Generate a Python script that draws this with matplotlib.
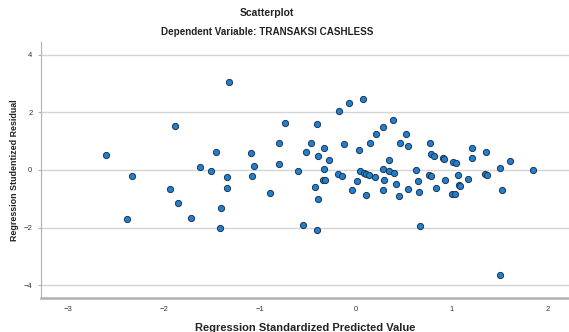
import matplotlib
matplotlib.use('Agg')
import matplotlib.pyplot as plt

plt.rcParams['font.family'] = ['Liberation Sans', 'DejaVu Sans']

# standardized predicted value vs studentized residual
pred = [-1.317, -1.885, -2.604, -1.45, -1.62, -1.507, -2.33, -1.337, -1.344, -1.93,
        -1.854, -1.406, -2.385, -1.716, -1.41, -0.736, -0.403, -0.80, -0.466, -1.094,
        -0.518, -0.33, -0.396, -0.28, -1.063, -0.796, -0.598, -0.333, -1.077, -0.34,
        -0.317, -0.42, -0.896, -0.39, -0.552, -0.406, 0.076, -0.073, -0.17, 0.389,
        0.29, 0.21, -0.119, 0.146, 0.038, 0.458, 0.344, -0.188, -0.143, 0.045,
        0.083, 0.107, 0.142, 0.201, 0.29, 0.347, 0.402, 0.298, 0.423, 0.017,
        -0.042, 0.288, 0.11, 0.451, 0.521, 0.542, 0.774, 0.788, 0.819, 0.906,
        0.923, 1.01, 1.048, 0.632, 0.767, 0.784, 0.927, 1.066, 1.073, 1.09,
        1.17, 0.652, 0.545, 0.656, 0.836, 1.003, 1.034, 0.67, 1.208, 1.215,
        1.354, 1.607, 1.507, 1.844, 1.344, 1.371, 1.527, 1.507]
resid = [3.05, 1.53, 0.53, 0.63, 0.09, -0.05, -0.20, -0.25, -0.61, -0.67,
         -1.14, -1.32, -1.69, -1.67, -2.03, 1.62, 1.59, 0.95, 0.93, 0.58,
         0.63, 0.77, 0.49, 0.34, 0.15, 0.22, -0.02, 0.02, -0.20, -0.35,
         -0.35, -0.60, -0.79, -1.01, -1.92, -2.10, 2.48, 2.34, 2.06, 1.74,
         1.50, 1.25, 0.92, 0.94, 0.70, 0.94, 0.34, -0.14, -0.20, -0.05,
         -0.09, -0.13, -0.19, -0.23, 0.02, -0.03, -0.10, -0.35, -0.50, -0.39,
         -0.68, -0.68, -0.86, -0.92, 1.26, 0.85, 0.93, 0.55, 0.50, 0.41,
         0.38, 0.29, 0.25, -0.01, -0.17, -0.20, -0.36, -0.17, -0.53, -0.55,
         -0.30, -0.39, -0.65, -0.78, -0.61, -0.82, -0.85, -1.95, 0.78, 0.41,
         0.61, 0.31, 0.06, 0.01, -0.13, -0.16, -0.71, -3.65]

xticks = [-3, -2, -1, 0, 1, 2]
yticks = [-4, -2, 0, 2, 4]

fig = plt.figure(figsize=(5.69, 3.32), dpi=100)
ax = fig.add_axes([0.0715, 0.1033, 0.9285, 0.7702])

ax.scatter(pred, resid, s=20, color='#1f7fd0', edgecolors='#1e3550',
           linewidths=0.7, zorder=3)

ax.set_xlim(-3.28, 2.222)
ax.set_ylim(-4.44, 4.45)
ax.set_xticks(xticks)
ax.set_yticks(yticks)
ax.tick_params(axis='x', length=0, labelsize=5.5, colors='#333333', pad=6)
ax.tick_params(axis='y', length=2, width=0.8, color='#b0b0b0',
               labelcolor='#333333', labelsize=5.5, pad=4)
ax.yaxis.grid(True, color='#d4d4d4', linewidth=1)
ax.set_axisbelow(True)
for s in ['top', 'right']:
    ax.spines[s].set_visible(False)
ax.spines['left'].set_color('#b0b0b0')
ax.spines['bottom'].set_color('#b0b0b0')
ax.spines['bottom'].set_linewidth(1.8)

ax.set_xlabel('Regression Standardized Predicted Value', fontsize=8,
              fontweight='bold', color='#222222', va='center')
ax.xaxis.set_label_coords(0.5, -0.12)
ax.set_ylabel('Regression Studentized Residual', fontsize=6.4,
              fontweight='bold', color='#222222', va='center')
ax.yaxis.set_label_coords(-0.05, 0.497)

fig.text(0.469, 0.961, 'Scatterplot', ha='center', va='center',
         fontsize=7.5, fontweight='bold', color='#222222')
fig.text(0.469, 0.904, 'Dependent Variable: TRANSAKSI CASHLESS', ha='center',
         va='center', fontsize=7.1, fontweight='bold', color='#222222')

fig.savefig('out.png', dpi=100)
